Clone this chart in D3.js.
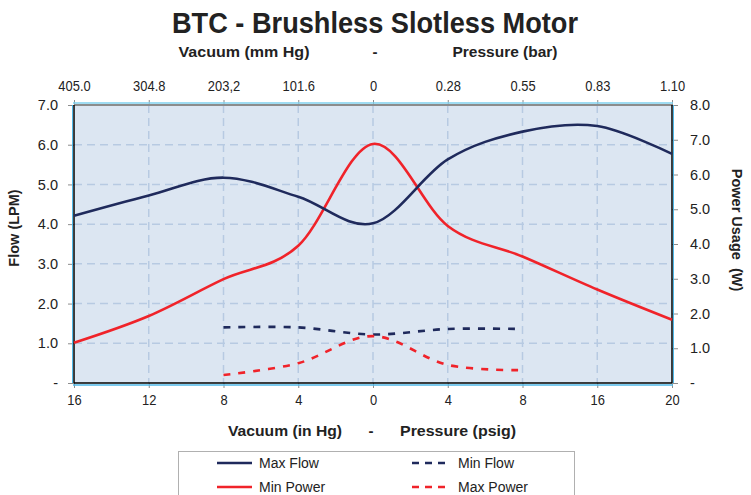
<!DOCTYPE html>
<html>
<head>
<meta charset="utf-8">
<script src="https://cdn.jsdelivr.net/npm/d3@7"></script>
<style>
  html, body { margin: 0; padding: 0; background: #ffffff; }
  svg { display: block; }
</style>
</head>
<body>
<div id="chart"></div>
<script>
// ---- data ----
const categories = ["16", "12", "8", "4", "0", "4", "8", "16", "20"];
const topLabels = ["405.0", "304.8", "203,2", "101.6", "0", "0.28", "0.55", "0.83", "1.10"];
const maxFlow = [4.21, 4.72, 5.17, 4.69, 4.02, 5.63, 6.33, 6.47, 5.77];
const minFlow = [null, null, 1.40, 1.40, 1.22, 1.36, 1.36, null, null];
const minPower = [1.16, 1.93, 2.99, 3.95, 6.88, 4.52, 3.64, 2.69, 1.82];
const maxPower = [null, null, 0.23, 0.57, 1.35, 0.52, 0.37, null, null];
const leftTicks = [0, 1, 2, 3, 4, 5, 6, 7];
const rightTicks = [0, 1, 2, 3, 4, 5, 6, 7, 8];

const W = 751, H = 495;
const L = 74, R = 672, T = 105, B = 383;
const narrow = "'Liberation Sans Narrow', 'Arial Narrow', 'Liberation Sans', Arial, sans-serif";
const sans = "'Liberation Sans', Arial, sans-serif";
const navy = "#1f2a5c", red = "#f0232a";

const svg = d3.select("#chart").append("svg").attr("width", W).attr("height", H);

const x = d3.scalePoint().domain(d3.range(categories.length)).range([L, R]);
const yL = d3.scaleLinear().domain([0, 7]).range([B, T]);
const yR = d3.scaleLinear().domain([0, 8]).range([B, T]);

// condense a text element horizontally
function condense(sel, f) {
  sel.each(function () {
    const w = this.getComputedTextLength();
    if (w > 0) d3.select(this).attr("textLength", w * f).attr("lengthAdjust", "spacingAndGlyphs");
  });
}

// plot background
svg.append("rect").attr("x", L).attr("y", T).attr("width", R - L).attr("height", B - T)
  .attr("fill", "#dce6f2");

// grid
const grid = svg.append("g").attr("stroke", "#b7cae2").attr("stroke-width", 1.5)
  .attr("stroke-dasharray", "8,5");
grid.selectAll("line.h").data(leftTicks.filter(d => d > 0 && d < 7)).enter().append("line")
  .attr("x1", L).attr("x2", R).attr("y1", d => yL(d)).attr("y2", d => yL(d));
grid.selectAll("line.v").data(d3.range(1, categories.length - 1)).enter().append("line")
  .attr("y1", T).attr("y2", B).attr("x1", d => x(d)).attr("x2", d => x(d));

// axes
const axL = d3.axisLeft(yL).tickValues(leftTicks).tickSize(6).tickPadding(10)
  .tickFormat(d => d === 0 ? "-" : d3.format(".1f")(d));
const gL = svg.append("g").attr("transform", `translate(${L},0)`).call(axL);
const axR = d3.axisRight(yR).tickValues(rightTicks).tickSize(6).tickPadding(12)
  .tickFormat(d => d === 0 ? "-" : d3.format(".1f")(d));
const gR = svg.append("g").attr("transform", `translate(${R},0)`).call(axR);
const axB = d3.axisBottom(x).tickSize(5).tickPadding(6).tickFormat(i => categories[i]);
const gB = svg.append("g").attr("transform", `translate(0,${B})`).call(axB);
const axT = d3.axisTop(x).tickSize(5).tickPadding(9).tickFormat(i => topLabels[i]);
const gT = svg.append("g").attr("transform", `translate(0,${T})`).call(axT);

[gL, gR, gB, gT].forEach(g => {
  g.select(".domain").remove();
  g.selectAll(".tick line").attr("stroke", "#8c8c8c").attr("stroke-width", 1);
  g.selectAll(".tick text").attr("fill", "#222").attr("font-size", 14);
});
gL.selectAll(".tick text").attr("font-family", sans).attr("font-size", 14.5);
gR.selectAll(".tick text").attr("font-family", sans).attr("font-size", 14.5);
gB.selectAll(".tick text").attr("font-family", narrow).attr("font-size", 15).call(condense, 0.86);
gT.selectAll(".tick text").attr("font-family", narrow).attr("font-size", 15).call(condense, 0.86);

// plot borders
svg.append("line").attr("x1", L - 1).attr("x2", R + 1).attr("y1", T - 2).attr("y2", T - 2)
  .attr("stroke", "#7fd0ee").attr("stroke-width", 1.5);
svg.append("line").attr("x1", L).attr("x2", R).attr("y1", T).attr("y2", T)
  .attr("stroke", "#8c8c8c").attr("stroke-width", 2);
svg.append("line").attr("x1", L - 1).attr("x2", R + 1).attr("y1", B + 2).attr("y2", B + 2)
  .attr("stroke", "#4fb8e8").attr("stroke-width", 1.5);
svg.append("line").attr("x1", L).attr("x2", R).attr("y1", B).attr("y2", B)
  .attr("stroke", "#000").attr("stroke-width", 1.5);
svg.append("line").attr("x1", L - 1.5).attr("x2", L - 1.5).attr("y1", T).attr("y2", B)
  .attr("stroke", "#4fb8e8").attr("stroke-width", 1);
svg.append("line").attr("x1", L).attr("x2", L).attr("y1", T).attr("y2", B)
  .attr("stroke", "#000").attr("stroke-width", 1.5);
svg.append("line").attr("x1", R + 1.5).attr("x2", R + 1.5).attr("y1", T).attr("y2", B)
  .attr("stroke", "#4fb8e8").attr("stroke-width", 1);
svg.append("line").attr("x1", R).attr("x2", R).attr("y1", T).attr("y2", B)
  .attr("stroke", "#000").attr("stroke-width", 1.5);

// series
const curve = d3.curveCardinal.tension(0);
function drawSeries(data, yScale, color, dash) {
  const line = d3.line().defined(d => d != null).x((d, i) => x(i)).y(d => yScale(d)).curve(curve);
  svg.append("path").datum(data).attr("d", line).attr("fill", "none")
    .attr("stroke", color).attr("stroke-width", 2.6)
    .attr("stroke-dasharray", dash || null);
}
drawSeries(minPower, yR, red);
drawSeries(maxFlow, yL, navy);
drawSeries(minFlow, yL, navy, "7,8");
drawSeries(maxPower, yR, red, "7,8");

// titles
svg.append("text").attr("x", 375).attr("y", 33).attr("text-anchor", "middle")
  .attr("font-family", narrow).attr("font-weight", "bold").attr("font-size", 29)
  .attr("fill", "#222").attr("textLength", 406).attr("lengthAdjust", "spacingAndGlyphs")
  .text("BTC - Brushless Slotless Motor");

function boldLabel(txt, cx, y, len) {
  const t = svg.append("text").attr("x", cx).attr("y", y).attr("text-anchor", "middle")
    .attr("font-family", narrow).attr("font-weight", "bold").attr("font-size", 15)
    .attr("fill", "#222").text(txt);
  if (len) t.attr("textLength", len).attr("lengthAdjust", "spacingAndGlyphs");
}
boldLabel("Vacuum (mm Hg)", 244, 57, 131);
boldLabel("-", 375, 57);
boldLabel("Pressure (bar)", 505, 57, 105);
boldLabel("Vacuum (in Hg)", 285, 436, 114);
boldLabel("-", 371, 436);
boldLabel("Pressure (psig)", 458, 436, 116);

svg.append("text").attr("transform", "translate(19,228) rotate(-90)").attr("text-anchor", "middle")
  .attr("font-family", sans).attr("font-weight", "bold").attr("font-size", 14.5)
  .attr("fill", "#222").text("Flow (LPM)");
svg.append("text").attr("transform", "translate(732,230) rotate(90)").attr("text-anchor", "middle")
  .attr("font-family", sans).attr("font-weight", "bold").attr("font-size", 14.5)
  .attr("fill", "#222").style("white-space", "pre")
  .text("Power Usage  (W)");

// legend
const legendItems = [
  { name: "Max Flow", color: navy, dash: null, col: 0, row: 0 },
  { name: "Min Flow", color: navy, dash: "7,8", col: 1, row: 0 },
  { name: "Min Power", color: red, dash: null, col: 0, row: 1 },
  { name: "Max Power", color: red, dash: "7,8", col: 1, row: 1 }
];
svg.append("rect").attr("x", 178.5).attr("y", 451.5).attr("width", 396).attr("height", 60)
  .attr("fill", "#fff").attr("stroke", "#b0b0b0").attr("stroke-width", 1);
const lg = svg.append("g").selectAll("g").data(legendItems).enter().append("g")
  .attr("transform", d => `translate(${d.col ? 412 : 217},${d.row ? 487 : 463})`);
lg.append("line").attr("x1", 0).attr("x2", 35).attr("y1", 0).attr("y2", 0)
  .attr("stroke", d => d.color).attr("stroke-width", 2.6)
  .attr("stroke-dasharray", d => d.dash ? "7,6" : null);
lg.append("text").attr("x", d => d.col ? 46 : 42).attr("y", 5)
  .attr("font-family", sans).attr("font-size", 14).attr("fill", "#222").text(d => d.name);
</script>
</body>
</html>
